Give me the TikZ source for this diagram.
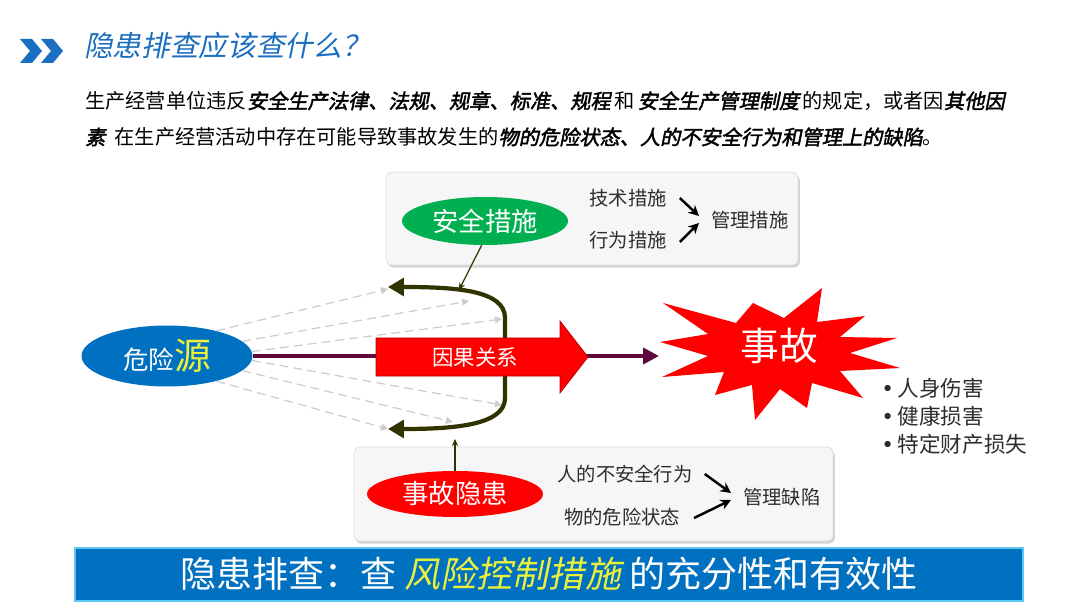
\documentclass[tikz,border=0pt]{standalone}
\usepackage{fontspec}
\setmainfont{Noto Sans CJK SC}
\newfontfamily\slfont[FakeSlant=0.2]{Noto Sans CJK SC}
\newfontfamily\bslfont[FakeSlant=0.2,FakeBold=2]{Noto Sans CJK SC}
\newfontfamily\dotfont{DejaVu Sans}
\usepackage{tikz}
\usetikzlibrary{arrows.meta,positioning,shadows,calc,shapes.geometric}
\definecolor{hzblue}{RGB}{0,112,192}
\definecolor{titleblue}{RGB}{28,110,192}
\definecolor{hzgreen}{RGB}{0,176,80}
\definecolor{hzred}{RGB}{255,0,0}
\definecolor{hzyellow}{RGB}{235,240,60}
\definecolor{causecol}{RGB}{95,10,60}
\definecolor{bracketcol}{RGB}{50,52,0}
\definecolor{textgray}{RGB}{45,45,45}
\definecolor{bannerline}{RGB}{90,200,240}

\begin{document}
\begin{tikzpicture}[x=0.02cm, y=-0.02cm,
    panel/.style={fill=gray!7, draw=gray!25, rounded corners=3pt,
        drop shadow={opacity=0.35, shadow xshift=1pt, shadow yshift=-1.5pt}},
    oval/.style={ellipse, inner sep=0pt, text=white, font=\fontsize{15pt}{17pt}\selectfont},
    boxtext/.style={inner sep=1pt, text=textgray, font=\fontsize{11pt}{13pt}\selectfont},
    pick/.style={line width=1.4pt, -{Stealth[length=6pt,width=6pt]}},
    ray/.style={draw=gray!40, dashed, dash pattern=on 5pt off 3pt, line width=0.7pt,
        -{Triangle[length=4pt,width=4pt]}},
    link/.style={draw=bracketcol, line width=0.7pt, -{Stealth[length=4pt,width=3.5pt]}},
    bullet/.style={anchor=west, inner sep=0pt, text=textgray, font=\fontsize{12.3pt}{14pt}\selectfont}]

    \useasboundingbox (0,0) rectangle (1080,608);

    % Header: chevrons and title
    \fill[titleblue] (20,39) -- (32,39) -- (42,51) -- (32,63) -- (20,63) -- (30,51) -- cycle;
    \fill[titleblue] (41,39) -- (53,39) -- (63,51) -- (53,63) -- (41,63) -- (51,51) -- cycle;
    \node[anchor=west, inner sep=0pt, text=titleblue, font=\fontsize{16.3pt}{18pt}\slfont]
        (title) at (84,46) {隐患排查应该查什么？};

    % Definition, two lines
    \node[anchor=west, inner sep=0pt, font=\fontsize{11.5pt}{13pt}\selectfont] (line1) at (85,101)
        {生产经营单位违反{\bslfont 安全生产法律、法规、规章、标准、规程}\,和\,{\bslfont 安全生产管理制度}\,的规定，或者因{\bslfont 其他因}};
    \node[anchor=west, inner sep=0pt, font=\fontsize{11.5pt}{13pt}\selectfont] (line2) at (85,137)
        {{\bslfont 素}\ \ 在生产经营活动中存在可能导致事故发生的{\bslfont 物的危险状态、人的不安全行为和管理上的缺陷}。};

    % Panels
    \path[panel] (386,172) rectangle (798,265);
    \path[panel] (354,447) rectangle (833,541);

    % Safety measures
    \node[oval, fill=hzgreen, minimum width=3.32cm, minimum height=0.96cm] (safety) at (485,221) {安全措施};
    \node[boxtext] (tech) at (628,198) {技术措施};
    \node[boxtext] (behav) at (628,240) {行为措施};
    \node[boxtext, anchor=west] (mgmt) at (709,220) {管理措施};
    \draw[pick] ($(tech.east)+(11,0)$) -- ($(mgmt.west)+(-10,-4)$);
    \draw[pick] ($(behav.east)+(11,2)$) -- ($(mgmt.west)+(-10,3)$);

    % Hidden dangers
    \node[oval, fill=hzred, minimum width=3.52cm, minimum height=0.92cm] (hazard) at (455,494) {事故隐患};
    \node[boxtext] (human) at (625,474) {人的不安全行为};
    \node[boxtext] (thing) at (622,517) {物的危险状态};
    \node[boxtext, anchor=west] (defect) at (741,497) {管理缺陷};
    \draw[pick] ($(human.east)+(10,0)$) -- ($(defect.west)+(-10,-4)$);
    \draw[pick] ($(thing.east)+(12,1)$) -- ($(defect.west)+(-10,3)$);

    % Hazard source
    \node[ellipse, inner sep=0pt, fill=hzblue, minimum width=3.42cm, minimum height=1.22cm] (src) at (167,356)
        {\fontsize{14.5pt}{16pt}\selectfont\color{white}危险\fontsize{21pt}{22pt}\selectfont\color{hzyellow}源};

    % Dashed rays
    \coordinate (r1) at (388,289);
    \coordinate (r2) at (469,301);
    \coordinate (r3) at (502,319);
    \coordinate (r4) at (502,405);
    \coordinate (r5) at (453,422);
    \coordinate (r6) at (388,429);
    \foreach \a/\r in {27/r1, 11/r2, 3/r3, -3/r4, -11/r5, -27/r6}
        \draw[ray] (src.\a) -- (\r);

    % Bracket with two tips (behind the big arrow)
    \coordinate (tipT) at (388,287);
    \coordinate (tipB) at (388,429);
    \draw[bracketcol, line width=2.4pt, {Triangle[length=9pt,width=10pt]}-{Triangle[length=9pt,width=10pt]}]
        (tipT) .. controls (455,287) and (505,290) .. (505,318) -- (505,398)
        .. controls (505,425) and (455,429) .. (tipB);
    \coordinate (hookT) at (459,290);
    \coordinate (hookB) at (455,439);
    \draw[link] (safety.262) -- (hookT);
    \draw[link] (hazard.north) -- (hookB);

    % Causal line and big arrow
    \coordinate (hit) at (659,356);
    \draw[causecol, line width=2.6pt, -{Triangle[length=9pt,width=9pt]}] (src.east) -- (hit);
    \filldraw[fill=hzred, draw=red!70!black, line width=0.4pt]
        (376,338) -- (560,338) -- (560,321) -- (588,357) -- (560,393) -- (560,376) -- (376,376) -- cycle;
    \node[text=white, font=\fontsize{12.2pt}{14pt}\selectfont] (cause) at (475,357) {因果关系};

    % Accident burst
    \fill[hzred] (663,303) -- (736,323) -- (753,303) -- (784,318) -- (822,288) -- (817,322)
        -- (865,316) -- (840,337) -- (897,338) -- (850,353) -- (900,368) -- (840,371)
        -- (863,398) -- (812,383) -- (807,408) -- (780,389) -- (755,420) -- (752,385)
        -- (715,395) -- (724,372) -- (662,377) -- (708,356) -- (660,342) -- (708,334) -- cycle;
    \node[text=white, font=\fontsize{22pt}{24pt}\selectfont] (acc) at (779,346) {事故};

    % Consequences
    \node[bullet] (hurt) at (881,388) {{\dotfont •}\,人身伤害};
    \node[bullet, below=4pt of hurt.south west, anchor=north west] (health) {{\dotfont •}\,健康损害};
    \node[bullet, below=4pt of health.south west, anchor=north west] (loss) {{\dotfont •}\,特定财产损失};

    % Banner
    \path[fill=hzblue, draw=bannerline, line width=0.6pt] (75,548) rectangle (1023,601);
    \node[font=\fontsize{20.5pt}{22pt}\selectfont, text=white] (banner) at (549,574)
        {隐患排查：查\ {\slfont\color{hzyellow}风险控制措施}\ 的充分性和有效性};
\end{tikzpicture}
\end{document}
